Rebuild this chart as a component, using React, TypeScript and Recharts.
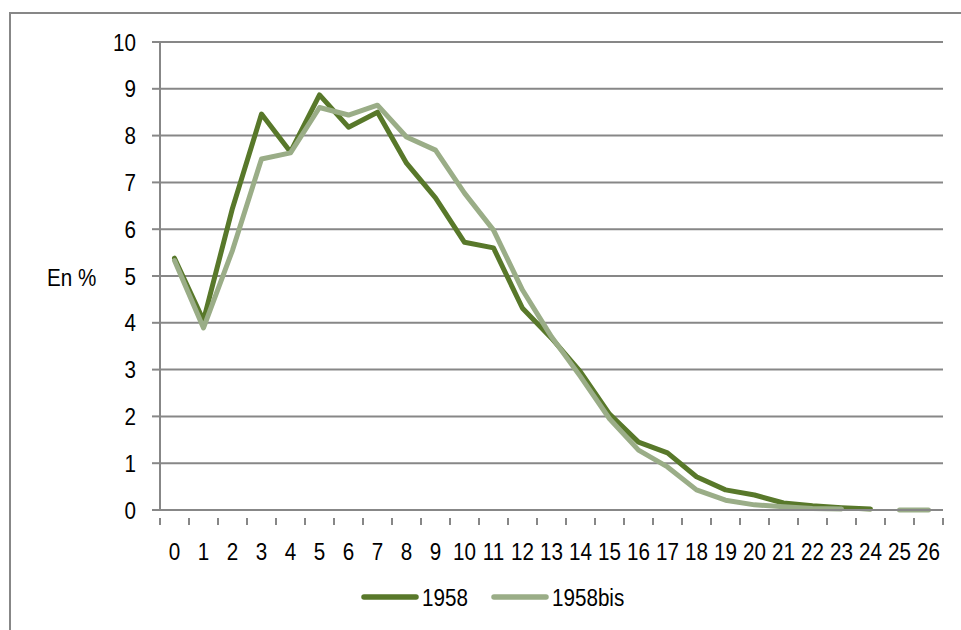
import React from 'react';
import { LineChart, Line, XAxis, YAxis, CartesianGrid, Legend } from 'recharts';

const categories = [0, 1, 2, 3, 4, 5, 6, 7, 8, 9, 10, 11, 12, 13, 14, 15, 16, 17, 18, 19, 20, 21, 22, 23, 24, 25, 26];
const series1958 = [5.38, 4.05, 6.45, 8.46, 7.65, 8.87, 8.18, 8.5, 7.41, 6.67, 5.72, 5.6, 4.31, 3.67, 2.95, 2.05, 1.45, 1.22, 0.71, 0.43, 0.32, 0.15, 0.09, 0.05, 0.02, null, null];
const series1958bis = [5.33, 3.89, 5.55, 7.5, 7.63, 8.6, 8.44, 8.65, 7.97, 7.69, 6.77, 5.98, 4.7, 3.7, 2.85, 1.95, 1.28, 0.92, 0.43, 0.21, 0.11, 0.07, 0.03, 0.02, null, 0, 0];
const yTicks = [0, 1, 2, 3, 4, 5, 6, 7, 8, 9, 10];
const seriesNames = ['1958', '1958bis'];

const DARK = '#58782a';
const LIGHT = '#9aad87';
const GRID = '#878787';
const FONT = '"Liberation Sans", Arial, sans-serif';
const SX = 0.86;

const data = categories.map((c, i) => ({ x: c, a: series1958[i], b: series1958bis[i] }));

const xTicks: number[] = [];
for (let i = 0; i < categories.length; i++) {
  xTicks.push(categories[i] - 0.5);
  xTicks.push(categories[i]);
}
xTicks.push(categories[categories.length - 1] + 0.5);

const NText = ({ x, y, anchor, children }: any) => (
  <text
    transform={`translate(${x},${y}) scale(${SX},1)`}
    x={0}
    y={0}
    textAnchor={anchor}
    fontSize={24}
    fontFamily={FONT}
    fill="#000"
  >
    {children}
  </text>
);

const XTick = (props: any) => {
  const { x, y, payload } = props;
  const v = payload.value;
  if (Number.isInteger(v)) {
    return <NText x={x} y={y + 42} anchor="middle">{v}</NText>;
  }
  return <line x1={x} x2={x} y1={y} y2={y + 7} stroke={GRID} strokeWidth={2} />;
};

const YTick = (props: any) => {
  const { x, y, payload } = props;
  return <NText x={x} y={y + 8.5} anchor="end">{payload.value}</NText>;
};

const LegendContent = () => {
  const colors = [DARK, LIGHT];
  const starts = [364, 494];
  return (
    <svg width={961} height={36} style={{ display: 'block' }}>
      {colors.map((c, i) => (
        <g key={i}>
          <line x1={starts[i]} x2={starts[i] + 52} y1={18} y2={18} stroke={c} strokeWidth={5.5} strokeLinecap="round" />
          <NText x={starts[i] + 58} y={26.5} anchor="start">{seriesNames[i]}</NText>
        </g>
      ))}
    </svg>
  );
};

export default function App() {
  return (
    <div style={{ position: 'absolute', left: 0, top: 0, width: 961, height: 630, overflow: 'hidden', background: '#fff' }}>
      <div style={{ position: 'absolute', left: 9, top: 12, width: 1200, height: 900, borderLeft: `2px solid ${GRID}`, borderTop: `2px solid ${GRID}` }} />
      <div style={{ position: 'absolute', left: 0, top: 0 }}>
        <LineChart width={961} height={630} data={data} margin={{ top: 42, right: 18, left: 100, bottom: 15 }}>
          <CartesianGrid vertical={false} stroke={GRID} strokeWidth={2} />
          <XAxis
            dataKey="x"
            type="number"
            domain={[-0.5, 26.5]}
            ticks={xTicks}
            interval={0}
            tick={<XTick />}
            tickLine={false}
            axisLine={{ stroke: GRID, strokeWidth: 2 }}
            height={69}
            allowDataOverflow
          />
          <YAxis
            domain={[0, 10]}
            ticks={yTicks}
            interval={0}
            width={60}
            tickSize={8}
            tickMargin={16}
            tick={<YTick />}
            tickLine={{ stroke: GRID, strokeWidth: 2 }}
            axisLine={{ stroke: GRID, strokeWidth: 2 }}
            label={() => <NText x={47} y={286} anchor="start">En %</NText>}
          />
          <Legend verticalAlign="bottom" height={36} wrapperStyle={{ left: 0, width: 961, bottom: 15 }} content={<LegendContent />} />
          <Line type="linear" dataKey="a" name={seriesNames[0]} stroke={DARK} strokeWidth={5} dot={false} strokeLinecap="round" strokeLinejoin="round" isAnimationActive={false} />
          <Line type="linear" dataKey="b" name={seriesNames[1]} stroke={LIGHT} strokeWidth={5} dot={false} strokeLinecap="round" strokeLinejoin="round" isAnimationActive={false} />
        </LineChart>
      </div>
    </div>
  );
}
